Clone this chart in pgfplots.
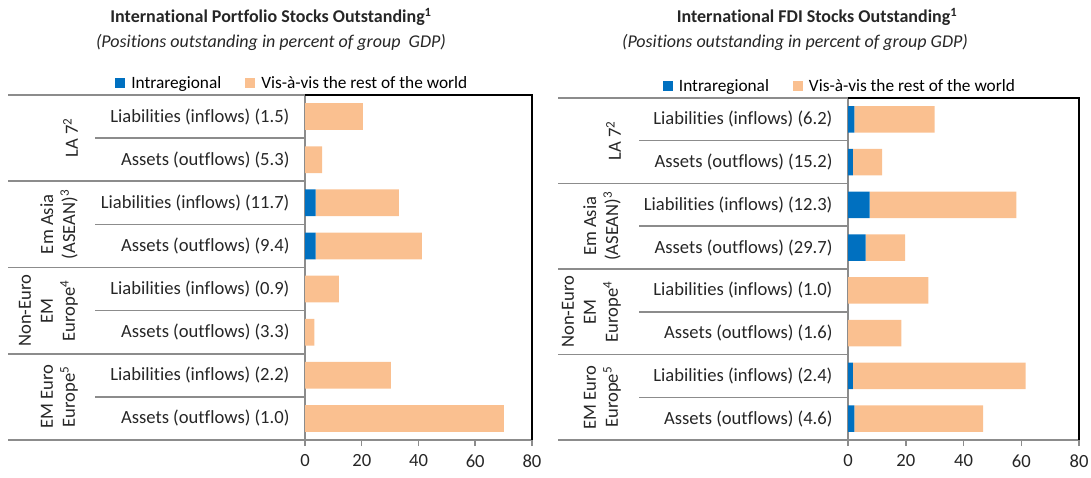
\documentclass[border=0pt]{standalone}
\usepackage{fontspec}
\setmainfont{Carlito}[Ligatures={NoCommon}]
\usepackage{pgfplots}
\pgfplotsset{compat=1.18}
\definecolor{intra}{HTML}{0070C0}
\definecolor{rest}{HTML}{FAC090}
\definecolor{gline}{HTML}{8C8C8C}

\pgfplotstableread{
row intra rest
1 0   20.4
2 0   6.0
3 3.7 29.4
4 3.7 37.5
5 0   11.9
6 0   3.3
7 0   30.3
8 0   70.1
}\portfolio
\pgfplotstableread{
row intra rest
1 2.2 27.8
2 1.7 10.1
3 7.5 50.8
4 6.1 13.7
5 0   27.8
6 0   18.5
7 1.7 59.8
8 2.2 44.6
}\fdi

\pgfplotsset{
  panel/.style={
    anchor=south west, scale only axis,
    xbar stacked, bar width=0.62,
    xmin=0, xmax=80, ymin=0.5, ymax=8.5, y dir=reverse,
    ytick={1,...,8},
    xtick={0,20,40,60,80},
    xticklabels={0,20,40,60,80},
    axis line style={draw=none},
    xtick pos=bottom, xtick align=outside,
    major tick length=6pt,
    x tick style={gline, line width=1.5pt},
    y tick style={draw=none},
    tick label style={font=\fontsize{18.6}{21}\selectfont, text=black!85},
    yticklabel style={xshift=-12pt},
    xticklabel style={yshift=-5pt},
    clip=false,
    legend columns=2,
    legend cell align=left,
    legend style={draw=none, fill=none, font=\fontsize{17.3}{21}\selectfont, anchor=west,
      /tikz/every even column/.append style={column sep=22pt}},
    legend image code/.code={\fill[##1] (0pt,-5pt) rectangle (10pt,5pt); \path (14pt,0pt);},
  },
  every axis plot/.append style={draw=none},
}
\tikzset{grp/.style={rotate=90,anchor=south,align=center,inner sep=0pt,font=\fontsize{18.6}{22}\selectfont, text=black!85},
  gl/.style={gline, line width=1.5pt}}

\begin{document}
\begin{tikzpicture}[x=1pt,y=1pt]
\path[use as bounding box] (0,0) rectangle (1091,477);

% ---------------- Left panel ----------------
\begin{axis}[panel, at={(305pt,37pt)}, width=227pt, height=345pt,
  yticklabels={Liabilities (inflows) (1.5), Assets (outflows) (5.3),
    Liabilities (inflows) (11.7), Assets (outflows) (9.4),
    Liabilities (inflows) (0.9), Assets (outflows) (3.3),
    Liabilities (inflows) (2.2), Assets (outflows) (1.0)},
  legend style={at={(axis description cs:-0.85,1.035)}},
]
\addplot[fill=intra] table[x=intra,y=row] {\portfolio};
\addplot[fill=rest] table[x=rest,y=row] {\portfolio};
\legend{Intraregional, Vis-à-vis the rest of the world}
\draw[black, line width=1.5pt] (axis cs:0,0.5) -- (axis cs:80,0.5) -- (axis cs:80,8.5);
\draw[gl] (axis cs:0,0.5) -- (axis cs:0,8.5) -- (axis cs:80,8.5);
\end{axis}
\foreach \y in {382,295.75,209.5,123.25,37} {\draw[gl] (8,\y) -- (305,\y);}
\foreach \y in {338.875,252.625,166.375,80.125} {\draw[gl] (95,\y) -- (305,\y);}
\node[grp] at (78,338.875) {LA 7\textsuperscript{2}};
\node[grp] at (78,252.625) {Em Asia\\(ASEAN)\textsuperscript{3}};
\node[grp] at (78,166.375) {Non-Euro\\EM\\Europe\textsuperscript{4}};
\node[grp] at (78,80.125) {EM Euro\\Europe\textsuperscript{5}};

% ---------------- Right panel ----------------
\begin{axis}[panel, at={(848pt,37pt)}, width=231pt, height=342pt,
  yticklabels={Liabilities (inflows) (6.2), Assets (outflows) (15.2),
    Liabilities (inflows) (12.3), Assets (outflows) (29.7),
    Liabilities (inflows) (1.0), Assets (outflows) (1.6),
    Liabilities (inflows) (2.4), Assets (outflows) (4.6)},
  legend style={at={(axis description cs:-0.815,1.035)}},
]
\addplot[fill=intra] table[x=intra,y=row] {\fdi};
\addplot[fill=rest] table[x=rest,y=row] {\fdi};
\legend{Intraregional, Vis-à-vis the rest of the world}
\draw[black, line width=1.5pt] (axis cs:0,0.5) -- (axis cs:80,0.5) -- (axis cs:80,8.5);
\draw[gl] (axis cs:0,0.5) -- (axis cs:0,8.5) -- (axis cs:80,8.5);
\end{axis}
\foreach \y in {379,293.5,208,122.5,37} {\draw[gl] (558,\y) -- (848,\y);}
\foreach \y in {336.25,250.75,165.25,79.75} {\draw[gl] (639,\y) -- (848,\y);}
\node[grp] at (621,336.25) {LA 7\textsuperscript{2}};
\node[grp] at (621,250.75) {Em Asia\\(ASEAN)\textsuperscript{3}};
\node[grp] at (621,165.25) {Non-Euro\\EM\\Europe\textsuperscript{4}};
\node[grp] at (621,79.75) {EM Euro\\Europe\textsuperscript{5}};

% ---------------- Titles ----------------
\node[font=\bfseries\fontsize{18}{21}\selectfont, text=black!85] at (271,460) {International Portfolio Stocks Outstanding\textsuperscript{1}};
\node[font=\itshape\fontsize{18}{21}\selectfont, text=black!85] at (271,435) {(Positions outstanding in percent of group\ \ GDP)};
\node[font=\bfseries\fontsize{18}{21}\selectfont, text=black!85] at (817,460) {International FDI Stocks Outstanding\textsuperscript{1}};
\node[font=\itshape\fontsize{18}{21}\selectfont, text=black!85] at (795,435) {(Positions outstanding in percent of group GDP)};
\end{tikzpicture}
\end{document}
